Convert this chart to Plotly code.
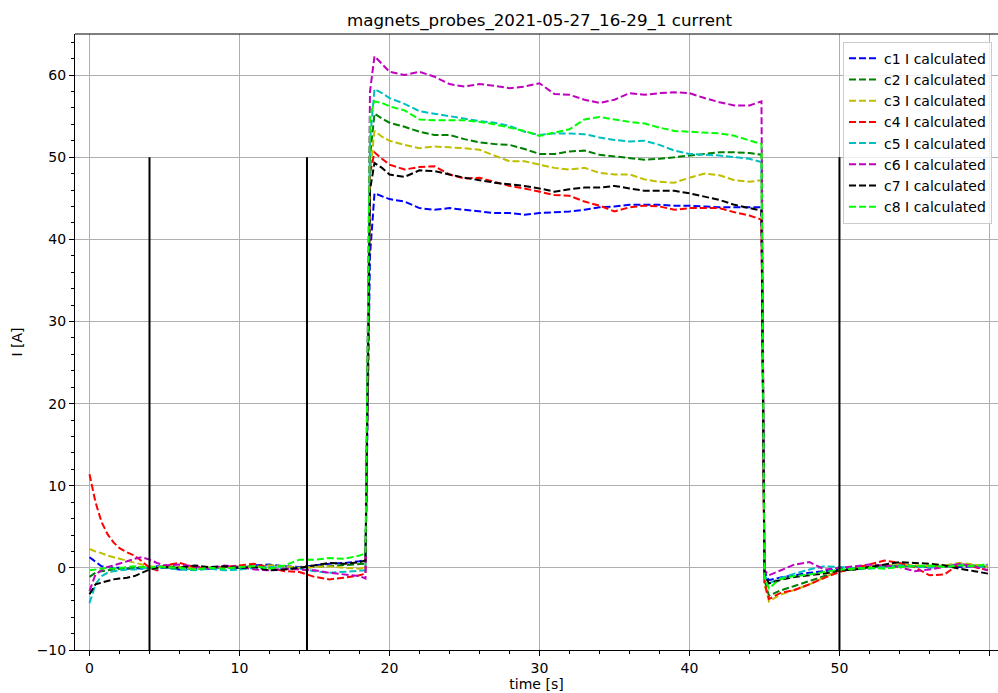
import plotly.graph_objects as go

# Sample times [s] shared by all probe channels
time_s = [0, 0.4, 0.8, 1.2, 1.6, 2, 2.5, 3, 3.5, 4, 4.5, 5, 6, 7, 8, 9, 10, 11, 12, 13, 14, 15, 16, 17, 18, 18.4,
          18.7, 19.0, 19.5, 20, 21, 22, 23, 24, 25, 26, 27, 28, 29, 30, 31, 32, 33, 34, 35, 36, 37, 38, 39, 40, 41, 42, 43, 44, 44.8,
          45.0, 45.3, 46, 47, 48, 49, 50, 51, 52, 53, 54, 55, 56, 57, 58, 59, 59.9]

# Calculated current per coil [A]
c1 = [1.3, 0.7, 0.2, 0.1, 0.0, 0.0, -0.1, 0.0, -0.1, 0.0, 0.2, 0.1, -0.2, 0.0, -0.1, 0.1, 0.0, 0.3, 0.4, 0.2, 0.1, 0.3, 0.5, 0.6, 0.8, 1.0,
      38.0, 45.6, 45.2, 44.9, 44.6, 43.8, 43.6, 43.8, 43.6, 43.4, 43.2, 43.2, 43.0, 43.2, 43.3, 43.4, 43.6, 43.9, 44.0, 44.2, 44.2, 44.2, 44.1, 44.1, 44.0, 43.9, 43.9, 43.9, 43.9,
      -0.5, -1.5, -1.2, -0.9, -0.6, -0.4, -0.1, 0.0, 0.1, 0.2, 0.3, 0.2, 0.1, 0.2, 0.1, 0.2, 0.3]
c2 = [-1.1, -0.6, -0.4, -0.3, -0.2, -0.1, -0.1, 0.0, 0.1, 0.0, 0.1, 0.2, 0.1, -0.1, 0.0, 0.1, 0.0, 0.2, 0.3, 0.2, 0.0, 0.1, 0.2, 0.3, 0.4, 0.5,
      50.0, 55.3, 54.7, 54.2, 53.7, 53.1, 52.7, 52.7, 52.2, 51.8, 51.6, 51.5, 51.0, 50.4, 50.4, 50.7, 50.8, 50.3, 50.1, 49.9, 49.7, 49.8, 50.0, 50.2, 50.4, 50.6, 50.6, 50.5, 50.3,
      -1.5, -3.4, -2.8, -2.2, -1.6, -1.0, -0.4, -0.2, 0.0, 0.2, 0.3, 0.2, 0.1, 0.3, 0.4, 0.3, 0.1]
c3 = [2.3, 2.0, 1.8, 1.5, 1.3, 1.1, 0.9, 0.6, 0.4, 0.2, 0.1, 0.0, 0.1, -0.1, 0.0, 0.1, 0.2, 0.1, 0.3, 0.2, 0.0, 0.1, 0.2, 0.0, -0.1, 0.1,
      48.0, 53.2, 52.5, 52.0, 51.5, 51.1, 51.3, 51.2, 51.1, 50.9, 50.2, 49.5, 49.5, 49.1, 48.7, 48.5, 48.7, 48.1, 47.9, 47.9, 47.3, 47.0, 46.9, 47.5, 48.0, 47.8, 47.2, 47.0, 47.2,
      -2.0, -4.1, -3.3, -2.7, -2.0, -1.1, -0.3, -0.1, 0.1, 0.3, 0.4, 0.3, 0.2, 0.3, 0.6, 0.4, 0.2]
c4 = [11.4, 8.0, 5.6, 4.1, 3.1, 2.4, 1.9, 1.5, 0.8, 0.0, -0.3, 0.3, 0.6, 0.1, -0.1, 0.1, 0.3, 0.5, 0.0, -0.4, -0.5, -1.1, -1.4, -1.2, -0.9, -0.7,
      48.0, 50.6, 49.8, 49.1, 48.5, 48.8, 48.9, 47.9, 47.4, 47.5, 47.0, 46.5, 46.2, 45.8, 45.4, 45.3, 44.6, 44.1, 43.4, 43.9, 44.1, 44.0, 43.6, 43.8, 43.8, 43.8, 43.3, 42.9, 42.4,
      -1.8, -3.8, -3.1, -2.7, -2.0, -1.2, -0.5, 0.0, 0.4, 0.9, 0.6, 0.1, -0.9, -0.8, 0.5, 0.1, -0.3]
c5 = [-4.3, -2.0, -1.0, -0.6, -0.4, -0.3, -0.2, -0.2, -0.1, 0.0, -0.1, 0.0, -0.2, -0.3, -0.1, -0.3, -0.2, 0.0, 0.1, -0.1, -0.1, -0.4, -0.6, -0.5, -0.4, -0.3,
      52.0, 58.3, 57.8, 57.2, 56.5, 55.6, 55.3, 55.0, 54.7, 54.4, 54.2, 53.8, 53.1, 52.7, 52.9, 52.9, 52.8, 52.4, 52.1, 51.9, 52.0, 51.5, 50.8, 50.4, 50.3, 50.2, 50.0, 49.8, 49.4,
      -0.8, -1.9, -1.3, -0.7, -0.2, 0.2, 0.1, 0.0, -0.1, 0.1, 0.3, 0.2, 0.0, 0.2, 0.4, 0.2, 0.0]
c6 = [-2.8, -0.8, -0.3, 0.1, 0.3, 0.5, 0.8, 1.1, 1.3, 1.0, 0.6, 0.3, 0.4, 0.2, -0.1, 0.3, 0.1, -0.2, -0.3, -0.1, -0.2, -0.3, -0.6, -0.8, -1.0, -1.3,
      58.0, 62.3, 61.3, 60.4, 60.0, 60.4, 59.8, 58.9, 58.6, 58.9, 58.7, 58.4, 58.6, 59.0, 57.7, 57.6, 57.0, 56.6, 57.0, 57.8, 57.6, 57.8, 57.9, 57.8, 57.2, 56.7, 56.3, 56.3, 56.8,
      -0.3, -0.9, -0.4, 0.4, 0.7, -0.2, 0.0, 0.2, 0.4, 0.3, 0.1, -0.4, -0.2, 0.1, 0.5, 0.2, -0.3]
c7 = [-3.2, -2.0, -1.8, -1.6, -1.4, -1.3, -1.2, -1.0, -0.6, -0.2, 0.0, 0.1, 0.0, 0.3, 0.1, 0.2, 0.0, 0.1, -0.3, -0.2, 0.0, 0.3, 0.6, 0.5, 0.7, 0.9,
      46.0, 49.3, 48.7, 47.9, 47.6, 48.4, 48.3, 47.9, 47.5, 47.2, 46.9, 46.7, 46.5, 46.2, 45.8, 46.1, 46.3, 46.3, 46.5, 46.2, 45.9, 45.9, 45.9, 45.6, 45.2, 44.8, 44.2, 43.8, 43.5,
      -0.8, -1.9, -1.5, -1.1, -0.9, -0.7, -0.3, -0.2, 0.1, 0.4, 0.7, 0.6, 0.5, 0.3, -0.1, -0.4, -0.7]
c8 = [-0.3, -0.2, -0.1, 0.0, -0.1, 0.0, 0.1, 0.2, 0.1, 0.0, 0.2, 0.1, 0.0, -0.2, 0.0, -0.1, 0.1, 0.2, -0.1, 0.3, 1.0, 1.0, 1.2, 1.1, 1.5, 1.8,
      55.0, 56.8, 56.6, 56.2, 55.7, 54.6, 54.5, 54.5, 54.5, 54.3, 54.0, 53.6, 53.2, 52.6, 53.0, 53.4, 54.6, 54.9, 54.6, 54.3, 54.1, 53.6, 53.2, 53.1, 53.0, 52.9, 52.6, 52.0, 51.6,
      -1.2, -2.5, -1.4, -1.0, -0.8, -0.5, -0.2, -0.1, 0.0, -0.1, 0.1, 0.2, 0.3, 0.1, 0.3, 0.2, 0.5]

series_names = ["c1 I calculated", "c2 I calculated", "c3 I calculated", "c4 I calculated",
                "c5 I calculated", "c6 I calculated", "c7 I calculated", "c8 I calculated"]
series_colors = ["#0000ff", "#008000", "#bfbf00", "#ff0000", "#00bfbf", "#bf00bf", "#000000", "#00ff00"]

# Event markers (vertical lines) drawn from the bottom of the axis up to 50 A
marker_times = [4, 14.5, 50]
marker_top = 50

x_range = [-0.967, 60.57]
y_range = [-10, 65]

fig = go.Figure()

for name, color, vals in zip(series_names, series_colors, [c1, c2, c3, c4, c5, c6, c7, c8]):
    fig.add_trace(go.Scatter(
        x=time_s, y=vals, mode="lines", name=name,
        line=dict(color=color, width=2, dash="7px,3px"),
    ))

vx, vy = [], []
for t in marker_times:
    vx += [t, t, None]
    vy += [y_range[0], marker_top, None]
fig.add_trace(go.Scatter(x=vx, y=vy, mode="lines", showlegend=False,
                         line=dict(color="black", width=2), hoverinfo="skip"))

font_family = "DejaVu Sans"
axis_common = dict(
    showgrid=True, gridcolor="#b0b0b0", gridwidth=1,
    zeroline=False,
    showline=True, linecolor="black", linewidth=1, mirror=False,
    ticks="outside", ticklen=5, tickwidth=1, tickcolor="black",
    tickfont=dict(family=font_family, size=14, color="black"),
    minor=dict(dtick=2, ticks="outside", ticklen=3, tickwidth=1, tickcolor="black", showgrid=False),
)

fig.update_layout(
    width=998, height=693,
    margin=dict(l=75, r=0, t=34, b=43, autoexpand=False),
    paper_bgcolor="white", plot_bgcolor="white",
    font=dict(family=font_family, size=14, color="black"),
    title=dict(text="magnets_probes_2021-05-27_16-29_1 current",
               font=dict(family=font_family, size=16.7, color="black"),
               x=0.5033, xref="paper", xanchor="center",
               y=1 - 20 / 693, yref="container", yanchor="middle"),
    xaxis=dict(range=x_range, dtick=10, tick0=0,
               title=dict(text="time [s]", standoff=4,
                          font=dict(family=font_family, size=14, color="black")),
               **axis_common),
    yaxis=dict(range=y_range, dtick=10, tick0=0,
               title=dict(text="I [A]", standoff=10,
                          font=dict(family=font_family, size=14, color="black")),
               **axis_common),
    legend=dict(x=0.9935, xanchor="right", y=0.9875, yanchor="top",
                bgcolor="rgba(255,255,255,0.8)", bordercolor="#cccccc", borderwidth=1,
                font=dict(family=font_family, size=14, color="black")),
    shapes=[dict(type="line", xref="paper", yref="paper", x0=0, x1=1, y0=1, y1=1,
                 line=dict(color="black", width=1))],
)

fig.write_html("out.html")
